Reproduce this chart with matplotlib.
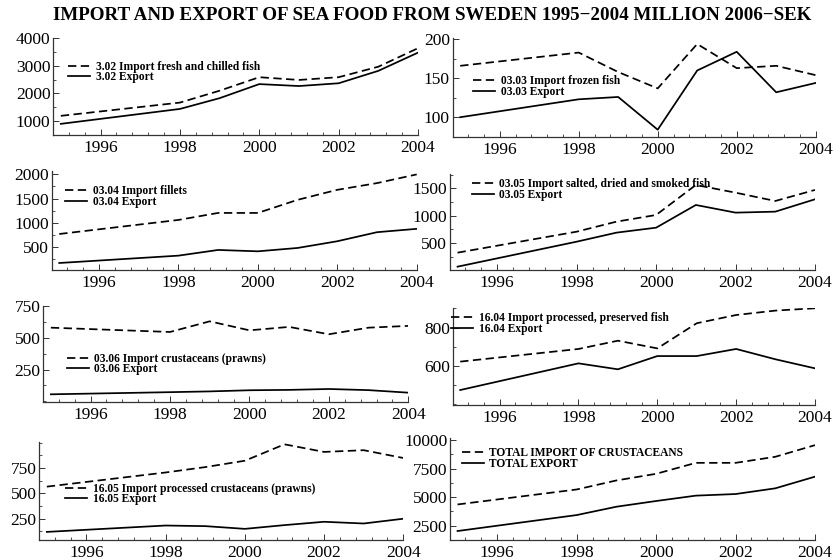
import matplotlib
matplotlib.use("Agg")
import matplotlib.pyplot as plt
from matplotlib.ticker import MultipleLocator, AutoMinorLocator, FixedLocator

plt.rcParams['font.family'] = ['Liberation Serif', 'DejaVu Serif']
plt.rcParams['lines.scale_dashes'] = False

years = [1995, 1998, 1999, 2000, 2001, 2002, 2003, 2004]

imp_0302 = [1190, 1670, 2100, 2590, 2490, 2590, 2970, 3640]
exp_0302 = [900, 1440, 1830, 2340, 2270, 2370, 2820, 3480]
imp_0303 = [166, 183, 158, 137, 194, 163, 166, 154]
exp_0303 = [100, 123, 126, 84, 160, 184, 132, 144]
imp_0304 = [773, 1062, 1206, 1206, 1475, 1681, 1819, 1998]
exp_0304 = [177, 328, 445, 417, 486, 624, 810, 879]
imp_0305 = [323, 707, 890, 1012, 1561, 1420, 1268, 1470]
exp_0305 = [67, 524, 689, 780, 1195, 1055, 1073, 1299]
imp_0306 = [581, 547, 631, 560, 587, 529, 581, 595]
exp_0306 = [55, 72, 78, 87, 90, 97, 88, 68]
imp_1604 = [623, 689, 732, 692, 823, 866, 889, 901]
exp_1604 = [475, 614, 583, 652, 652, 689, 635, 588]
imp_1605 = [567, 707, 760, 823, 985, 910, 927, 850]
exp_1605 = [120, 183, 177, 150, 187, 220, 203, 250]
imp_total = [4358, 5670, 6460, 7040, 8000, 8000, 8530, 9550]
exp_total = [2033, 3430, 4160, 4660, 5130, 5270, 5770, 6790]

labels = [
    ("3.02 Import fresh and chilled fish", "3.02 Export"),
    ("03.03 Import frozen fish", "03.03 Export"),
    ("03.04 Import fillets", "03.04 Export"),
    ("03.05 Import salted, dried and smoked fish", "03.05 Export"),
    ("03.06 Import crustaceans (prawns)", "03.06 Export"),
    ("16.04 Import processed, preserved fish", "16.04 Export"),
    ("16.05 Import processed crustaceans (prawns)", "16.05 Export"),
    ("TOTAL IMPORT OF CRUSTACEANS", "TOTAL EXPORT"),
]
imports = [imp_0302, imp_0303, imp_0304, imp_0305, imp_0306, imp_1604, imp_1605, imp_total]
exports = [exp_0302, exp_0303, exp_0304, exp_0305, exp_0306, exp_1604, exp_1605, exp_total]
yticks = [
    [1000, 2000, 3000, 4000],
    [100, 150, 200],
    [500, 1000, 1500, 2000],
    [500, 1000, 1500],
    [250, 500, 750],
    [600, 800],
    [250, 500, 750],
    [2500, 5000, 7500, 10000],
]
ylims = [(496, 4010), (75, 201.7), (33, 2068), (6, 1756), (-8, 752),
         (397, 904), (40, 1005), (1247, 10175)]
xticks = [1996, 1998, 2000, 2002, 2004]

W, H = 835, 560
# left, right, top, bottom in pixels
boxes = [(53.3, 418, 38, 135), (452.7, 815.7, 38, 136.7),
         (51.7, 416.7, 171, 270), (450, 815, 174.3, 270),
         (43.3, 408.3, 306, 402.3), (452.7, 815, 307.7, 405),
         (39.3, 403.3, 442.3, 540), (450, 815, 438, 540)]
leg_pos = [(68, 65.7), (473, 80), (65, 190), (471.7, 183.3),
           (66.7, 357.7), (451, 317.3), (65, 487.7), (461.7, 452.3)]

fig = plt.figure(figsize=(W / 100, H / 100), dpi=100)
spcol = '#333333'
lw = 1.25
for i in range(8):
    l, r, t, b = boxes[i]
    ax = fig.add_axes([l / W, 1 - b / H, (r - l) / W, (b - t) / H])
    ax.plot(years, imports[i], color='black', lw=lw, dashes=(6, 3.2), label=labels[i][0])
    ax.plot(years, exports[i], color='black', lw=lw, label=labels[i][1])
    ax.set_xlim(1994.81, 2004.0)
    ax.set_ylim(*ylims[i])
    ax.xaxis.set_major_locator(FixedLocator(xticks))
    ax.xaxis.set_minor_locator(MultipleLocator(0.4))
    ax.yaxis.set_major_locator(FixedLocator(yticks[i]))
    ax.yaxis.set_minor_locator(AutoMinorLocator(2))
    for s in ['top', 'right']:
        ax.spines[s].set_visible(False)
    for s in ['left', 'bottom']:
        ax.spines[s].set_color(spcol)
        ax.spines[s].set_linewidth(0.9)
    ax.tick_params(which='major', direction='in', length=4.3, width=0.7, color=spcol,
                   labelsize=12.5, labelcolor='black')
    ax.tick_params(which='minor', direction='in', length=2.5, width=0.6, color=spcol)
    ax.tick_params(axis='x', which='major', pad=3.5)
    ax.tick_params(axis='y', which='major', pad=2)
    ax.set_facecolor('none')
    lx, ly = leg_pos[i]
    ax.legend(loc='upper left', bbox_to_anchor=(lx / W, 1 - (ly - 5) / H),
              bbox_transform=fig.transFigure, frameon=False, borderpad=0,
              borderaxespad=0, handlelength=1.95, handletextpad=0.45,
              labelspacing=-0.12, prop={'family': 'Liberation Serif', 'weight': 'bold', 'size': 8.3})

fig.text(432 / W, 1 - 15 / H,
         "IMPORT AND EXPORT OF SEA FOOD FROM SWEDEN 1995\u22122004 MILLION 2006\u2212SEK",
         ha='center', va='center', fontsize=13.7, fontweight='bold')

fig.savefig('out.png', dpi=100, facecolor='white')
